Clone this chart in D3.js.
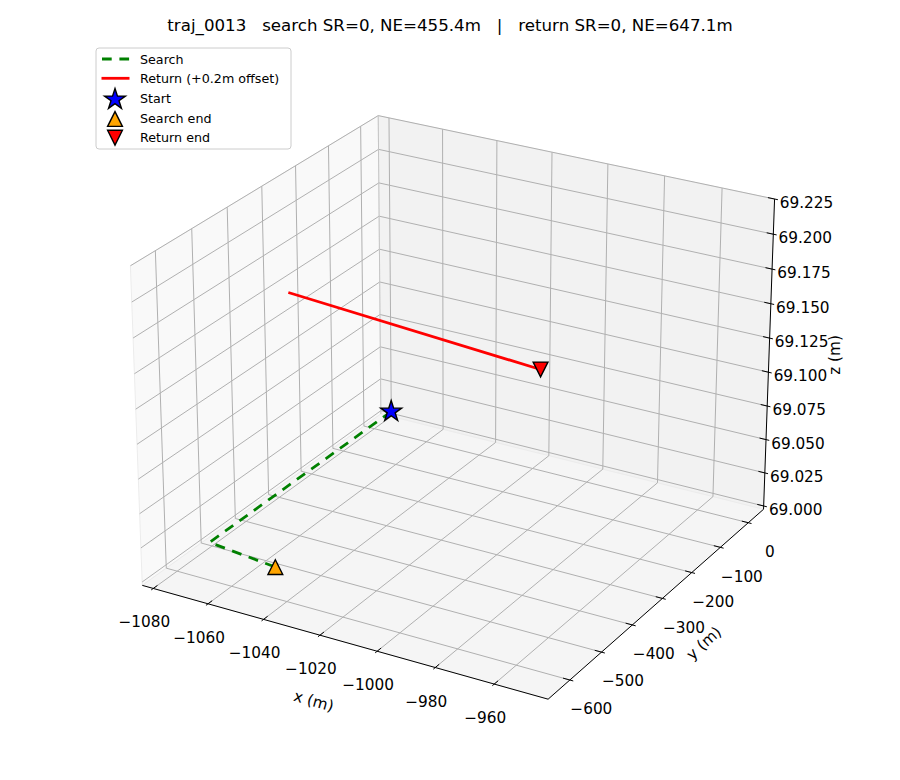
<!DOCTYPE html>
<html>
<head>
<meta charset="utf-8">
<script src="https://cdn.jsdelivr.net/npm/d3@7"></script>
<style>
 body { margin:0; background:#fff; }
 text { font-family:"DejaVu Sans", sans-serif; }
</style>
</head>
<body>
<div id="chart"></div>
<script>
"use strict";

let titleText = "traj_0013   search SR=0, NE=455.4m   |   return SR=0, NE=647.1m";

// search path (m)
let searchX = [-1075.1, -1075.1, -1048.6];
let searchY = [14.0, -543.7, -563.2];
let searchZ = [69.011, 69.011, 69.011];

// return path, drawn with +0.2 m offset
let returnX = [-1041.2, -950.4];
let returnY = [-569.1, -622.0];
let returnZ = [69.211, 69.211];

// ticks
let xTicks = [-1080, -1060, -1040, -1020, -1000, -980, -960];
let yTicks = [0, -100, -200, -300, -400, -500, -600];
let zTicks = [69.000, 69.025, 69.050, 69.075, 69.100, 69.125, 69.150, 69.175, 69.200, 69.225];

// box limits
let xLim = [-1084.05, -942.0];
let yLim = [-667.2, 55.7];
let zLim = [68.9975, 69.2249];

let legendNames = ["Search", "Return (+0.2m offset)", "Start", "Search end", "Return end"];

let svg = d3.select("#chart")
.append("svg")
.attr("width",900)
.attr("height",780);

// box aspect 4:4:3 like matplotlib
let k = 1.8294640721620434/Math.sqrt(41);
let xScale = d3.scaleLinear().domain(xLim).range([-2*k, 2*k]);
let yScale = d3.scaleLinear().domain(yLim).range([-2*k, 2*k]);
let zScale = d3.scaleLinear().domain(zLim).range([-1.5*k, 1.5*k]);

// camera
let elev = 25*Math.PI/180, azim = -60*Math.PI/180;
let w = [Math.cos(elev)*Math.cos(azim), Math.cos(elev)*Math.sin(azim), Math.sin(elev)];
let u = [-Math.sin(azim), Math.cos(azim), 0];
let v = [w[1]*u[2]-w[2]*u[1], w[2]*u[0]-w[0]*u[2], w[0]*u[1]-w[1]*u[0]];
let cx = 458.7, cy = 392.1, sc = 4050;

function dot(a,b){ return a[0]*b[0]+a[1]*b[1]+a[2]*b[2]; }

function proj(x,y,z){
  let q = [xScale(x), yScale(y), zScale(z)];
  let d = 10 - dot(w,q);
  return [cx + sc*dot(u,q)/d, cy - sc*dot(v,q)/d];
}

let line = d3.line();
let x0 = xLim[0], x1 = xLim[1], y0 = yLim[0], y1 = yLim[1], z0 = zLim[0], z1 = zLim[1];

function seg(a,b,color,width){
  svg.append("path")
  .attr("d", line([proj(a[0],a[1],a[2]), proj(b[0],b[1],b[2])]))
  .attr("stroke",color)
  .attr("stroke-width",width)
  .attr("fill","none");
}

// panes
let panes = [
 {pts:[[x0,y0,z0],[x0,y1,z0],[x0,y1,z1],[x0,y0,z1]], color:"#f9f9f9"},
 {pts:[[x0,y1,z0],[x1,y1,z0],[x1,y1,z1],[x0,y1,z1]], color:"#f2f2f2"},
 {pts:[[x0,y0,z0],[x1,y0,z0],[x1,y1,z0],[x0,y1,z0]], color:"#f5f5f5"}
];
let closed = d3.line().curve(d3.curveLinearClosed);
panes.forEach(function(p){
  svg.append("path")
  .attr("d", closed(p.pts.map(function(c){ return proj(c[0],c[1],c[2]); })))
  .attr("fill",p.color)
  .attr("stroke","#ececec")
  .attr("stroke-width",1);
});

// gridlines
let gridColor = "#b0b0b0";
xTicks.forEach(function(t){
  seg([t,y0,z0],[t,y1,z0],gridColor,1);
  seg([t,y1,z0],[t,y1,z1],gridColor,1);
});
yTicks.forEach(function(t){
  seg([x0,t,z0],[x1,t,z0],gridColor,1);
  seg([x0,t,z0],[x0,t,z1],gridColor,1);
});
zTicks.forEach(function(t){
  seg([x0,y0,t],[x0,y1,t],gridColor,1);
  seg([x0,y1,t],[x1,y1,t],gridColor,1);
});
seg([x0,y1,z0],[x0,y1,z1],"#c4c4c4",1);

// axis lines
seg([x0,y0,z0],[x1,y0,z0],"black",1);
seg([x1,y0,z0],[x1,y1,z0],"black",1);
seg([x1,y1,z0],[x1,y1,z1],"black",1);

// tick marks and labels
let dxT = (x1-x0)*0.08, dyT = (y1-y0)*0.08;
let fmtX = function(t){ return (t<0?"\u2212":"") + Math.abs(t); };

xTicks.forEach(function(t){
  seg([t,y0-0.1*dyT,z0],[t,y0+0.2*dyT,z0],"black",1);
  let p = proj(t,y0,z0);
  svg.append("text").attr("x",p[0]-9).attr("y",p[1]+33.5).attr("dy","0.36em")
  .attr("text-anchor","middle").attr("font-size",15.3).text(fmtX(t));
});
yTicks.forEach(function(t){
  seg([x1+0.1*dxT,t,z0],[x1-0.2*dxT,t,z0],"black",1);
  let p = proj(x1,t,z0);
  svg.append("text").attr("x",p[0]+21.5).attr("y",p[1]+28.8).attr("dy","0.36em")
  .attr("text-anchor","middle").attr("font-size",15.3).text(fmtX(t));
});
zTicks.forEach(function(t){
  seg([x1+0.1*dxT,y1,t],[x1-0.2*dxT,y1,t],"black",1);
  let p = proj(x1,y1,t);
  svg.append("text").attr("x",p[0]+32).attr("y",p[1]+3.5).attr("dy","0.36em")
  .attr("text-anchor","middle").attr("font-size",15.3).text(t.toFixed(3));
});

// axis labels
let pxm = proj((x0+x1)/2,y0,z0);
svg.append("text")
.attr("transform","translate("+(pxm[0]-26)+","+(pxm[1]+60)+") rotate(15.7)")
.attr("dy","0.36em").attr("text-anchor","middle").attr("font-size",15.3)
.text("x (m)");
let pym = proj(x1,(y0+y1)/2,z0);
svg.append("text")
.attr("transform","translate("+(pym[0]+43)+","+(pym[1]+43)+") rotate(-42)")
.attr("dy","0.36em").attr("text-anchor","middle").attr("font-size",15.3)
.text("y (m)");
let pzm = proj(x1,y1,(z0+z1)/2);
svg.append("text")
.attr("transform","translate("+(pzm[0]+66)+","+(pzm[1]-2)+") rotate(-90)")
.attr("dy","0.36em").attr("text-anchor","middle").attr("font-size",15.3)
.text("z (m)");

// data lines
let searchPts = searchX.map(function(d,i){ return proj(d, searchY[i], searchZ[i]); });
let returnPts = returnX.map(function(d,i){ return proj(d, returnY[i], returnZ[i]); });

svg.append("path")
.attr("d", line(searchPts))
.attr("fill","none")
.attr("stroke","green")
.attr("stroke-width",2.8)
.attr("stroke-dasharray","10,7.7");

svg.append("path")
.attr("d", line(returnPts))
.attr("fill","none")
.attr("stroke","red")
.attr("stroke-width",2.8);

// markers
function triPath(s, down){
  let f = down ? -1 : 1;
  return "M0,"+(-s*f)+"L"+(-s)+","+(s*f)+"L"+s+","+(s*f)+"Z";
}

function drawStar(p){
  let pts = [];
  for(let i=0;i<10;i=i+1){
    let r = i%2===0 ? 11 : 11*0.381966;
    let a = -Math.PI/2 + i*Math.PI/5;
    pts.push([p[0]+r*Math.cos(a), p[1]+r*Math.sin(a)]);
  }
  svg.append("path")
  .attr("d", "M"+pts.join("L")+"Z")
  .attr("fill","blue")
  .attr("stroke","black")
  .attr("stroke-width",1.4);
}
function drawTri(p, down, color){
  svg.append("path")
  .attr("transform","translate("+p[0]+","+p[1]+")")
  .attr("d", triPath(7.4, down))
  .attr("fill",color)
  .attr("stroke","black")
  .attr("stroke-width",1.4);
}

drawStar(searchPts[0]);
drawTri(searchPts[searchPts.length-1], false, "orange");
drawTri(returnPts[returnPts.length-1], true, "red");

// legend
svg.append("rect")
.attr("x",96).attr("y",48).attr("width",195).attr("height",101)
.attr("rx",3)
.attr("fill","white").attr("fill-opacity",0.8)
.attr("stroke","#cccccc").attr("stroke-width",1);

let rows = [59, 78.3, 98.5, 118, 137.7];
svg.append("line").attr("x1",102).attr("x2",129.5).attr("y1",rows[0]).attr("y2",rows[0])
.attr("stroke","green").attr("stroke-width",2.8).attr("stroke-dasharray","9.7,7.7");
svg.append("line").attr("x1",101.5).attr("x2",129.5).attr("y1",rows[1]).attr("y2",rows[1])
.attr("stroke","red").attr("stroke-width",2.8);
drawStar([115, rows[2]+1]);
drawTri([115, rows[3]+1], false, "orange");
drawTri([115, rows[4]], true, "red");

legendNames.forEach(function(n,i){
  svg.append("text")
  .attr("x",140).attr("y",rows[i]).attr("dy","0.36em")
  .attr("font-size",12.7)
  .text(n);
});

// title
svg.append("text")
.attr("x",450).attr("y",31)
.attr("text-anchor","middle")
.attr("font-size",16.67)
.style("white-space","pre")
.text(titleText);
</script>
</body>
</html>
